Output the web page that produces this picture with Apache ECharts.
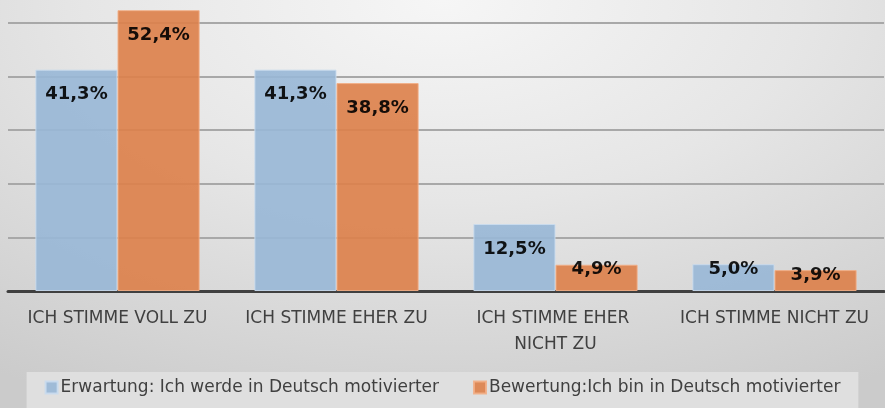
<!DOCTYPE html>
<html>
<head>
<meta charset="utf-8">
<script src="https://cdn.jsdelivr.net/npm/echarts@6/dist/echarts.min.js"></script>
<style>
  html, body { margin: 0; padding: 0; }
  #chart {
    width: 885px; height: 408px;
    background: radial-gradient(ellipse 90% 110% at 50% 0%, #f6f6f6 0%, #e6e6e6 45%, #cbcbcb 100%);
  }
</style>
</head>
<body>
<div id="chart"></div>
<script>
// data
var categories = ['ICH STIMME VOLL ZU', 'ICH STIMME EHER ZU', 'ICH STIMME EHER NICHT ZU', 'ICH STIMME NICHT ZU'];
var seriesNames = ['Erwartung: Ich werde in Deutsch motivierter', 'Bewertung:Ich bin in Deutsch motivierter'];
var erwartung = [41.3, 41.3, 12.5, 5.0];
var bewertung = [52.4, 38.8, 4.9, 3.9];

var font = 'DejaVu Sans';

// labels of tall bars sit inside the top, short bars get the label around the bar top
function barData(values) {
    return values.map(function (v) {
        if (v >= 10) {
            return { value: v, label: { position: 'insideTop', distance: 16 } };
        }
        return { value: v, label: { position: 'top', distance: -14 } };
    });
}

function makeSeries(name, values, color, border) {
    return {
        name: name,
        type: 'bar',
        barGap: '0%',
        barCategoryGap: '25%',
        data: barData(values),
        itemStyle: { color: color, borderColor: border, borderWidth: 1, opacity: 0.9 },
        label: {
            show: true,
            color: '#000',
            fontFamily: font,
            fontWeight: 'bold',
            fontSize: 18,
            formatter: function (p) { return p.value.toFixed(1).replace('.', ',') + '%'; }
        }
    };
}

var chart = echarts.init(document.getElementById('chart'));
chart.setOption({
    animation: false,
    grid: { left: 8, right: 1, top: 0, bottom: 117 },
    legend: {
        bottom: 0,
        left: 'center',
        data: seriesNames,
        backgroundColor: '#dfdfdf',
        padding: [7, 18, 12, 18],
        itemWidth: 12,
        itemHeight: 12,
        itemGap: 34,
        icon: 'rect',
        textStyle: { fontFamily: font, fontSize: 17, color: '#404040', padding: [0, 0, 0, -2] }
    },
    xAxis: {
        type: 'category',
        data: categories,
        axisLine: { lineStyle: { color: '#404040', width: 3 } },
        axisTick: { show: false },
        axisLabel: {
            fontFamily: font,
            fontSize: 17,
            color: '#404040',
            margin: 15,
            lineHeight: 26,
            width: 200,
            overflow: 'break',
            interval: 0
        }
    },
    yAxis: {
        type: 'value',
        min: 0,
        max: 54.3,
        interval: 10,
        axisLabel: { show: false },
        axisLine: { show: false },
        axisTick: { show: false },
        splitLine: { showMaxLine: false, lineStyle: { color: '#a8a8a8', width: 2 } }
    },
    series: [
        makeSeries(seriesNames[0], erwartung, '#98b7d6', '#c9dbee'),
        makeSeries(seriesNames[1], bewertung, '#dd8049', '#f2ae86')
    ]
});
</script>
</body>
</html>
